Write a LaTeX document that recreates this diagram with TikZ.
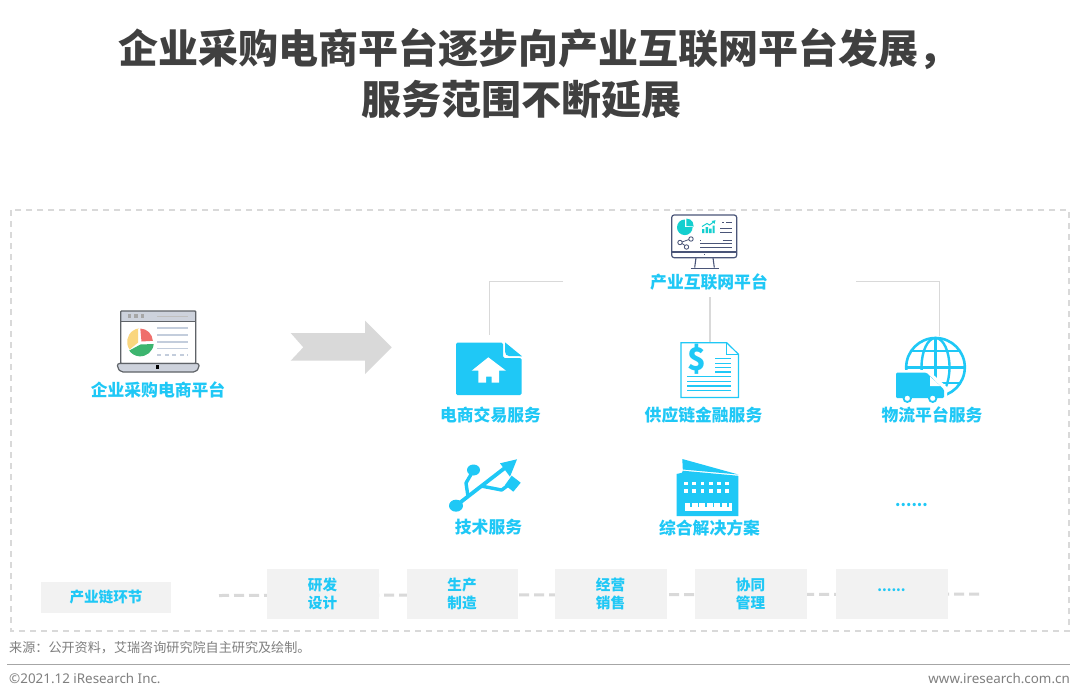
\documentclass[tikz,border=0pt]{standalone}
\usepackage{fontspec}
\setmainfont{Noto Sans}
\newfontfamily\cjk{Noto Sans CJK SC}
\usetikzlibrary{calc}
\definecolor{cy}{HTML}{1FC8F6}
\definecolor{tt}{HTML}{404040}
\definecolor{gr}{HTML}{D9D9D9}
\definecolor{bx}{HTML}{F2F2F2}
\definecolor{ft}{HTML}{7F7F7F}
\definecolor{navy}{HTML}{4A5578}
\definecolor{teal}{HTML}{14CFCF}
\definecolor{lapedge}{HTML}{5F6368}
\definecolor{lapfill}{HTML}{CDD2DC}
\definecolor{lapline}{HTML}{C3CDDC}
\definecolor{pied}{HTML}{EF6F6C}
\definecolor{pieg}{HTML}{3DB56F}
\definecolor{piey}{HTML}{FAD67E}
\tikzset{
 titletext/.style={anchor=west,inner sep=0pt,text=tt,font=\cjk\bfseries\fontsize{40}{48}\selectfont},
 lbl/.style={inner sep=0pt,text=cy,align=center,font=\cjk\bfseries\fontsize{16.8}{20}\selectfont},
 chainbox/.style={fill=bx,minimum width=112pt,minimum height=49.5pt,inner sep=0pt,text=cy,align=center,font=\cjk\bfseries\fontsize{14.6}{18}\selectfont},
 footnotetext/.style={anchor=west,inner sep=0pt,text=ft,font=\cjk\fontsize{13.1}{15}\selectfont},
 foot/.style={inner sep=0pt,text=ft,font=\fontsize{13.4}{15}\selectfont},
 link/.style={draw=gr,line width=1pt},
 chainlink/.style={draw=gr,line width=3pt,dash pattern=on 10pt off 5pt},
 dotstext/.style={inner sep=0pt,text=cy,font=\cjk\bfseries\fontsize{15.5}{20}\selectfont},
}
\begin{document}
\begin{tikzpicture}[x=1pt,y=-1pt]
\useasboundingbox (0,0) rectangle (1080,699);
\fill[white] (0,0) rectangle (1080,699);
% title
\node[titletext] (t1) at (118,49.5) {企业采购电商平台逐步向产业互联网平台发展，};
\node[titletext] (t2) at (361,99.5) {服务范围不断延展};
% frame
\draw[gr,line width=1.4pt,dash pattern=on 6pt off 5pt] (11,210) rectangle (1069,631);
% arrow
\fill[gr] (290.7,333) -- (365,333) -- (365,320.7) -- (391.7,347.3) -- (365,374) -- (365,360.7) -- (290.7,360.7) -- (303.3,347.3) -- cycle;

% laptop
\fill[white] (120.7,311) rectangle (195.7,364);
\fill[lapfill] (120.7,311) rectangle (195.7,321);
\draw[lapedge,line width=1.4pt,rounded corners=0.8pt] (120.7,311) rectangle (195.7,363.5);
\draw[lapedge,line width=.9pt] (120.7,321) -- (195.7,321);
\foreach \xx in {129.3,136,142.3} \fill[black!35] (\xx-1.7,314.3) rectangle (\xx+1.7,317.7);
\draw[black!25,line width=.9pt] (157.3,316) -- (188.3,316);
\foreach \yy in {328,335,342,348.7} \draw[lapline,line width=1.2pt] (157.3,\yy) -- (188.3,\yy);
\draw[lapline,line width=1.2pt,dash pattern=on 4pt off 3.5pt] (157.3,355) -- (188.3,355);
\filldraw[fill=lapfill,draw=lapedge,line width=1.2pt,rounded corners=2pt] (117.5,363.5) -- (199,363.5) -- (199,368) -- (195.5,372) -- (121,372) -- (117.5,368) -- cycle;
\fill[black] (156,365.3) rectangle (159.4,368.7);
\fill[pied] (140.3,328.5) arc[start angle=88,end angle=3,radius=13pt] -- (141.5,341.5) -- cycle;
\fill[pieg] (153.7,344) arc[start angle=-5,end angle=-145,radius=13.5pt] -- (140.5,344.5) -- cycle;
\fill[piey] (138.2,328.5) -- (138.2,342.5) -- (129.6,349.5) arc[start angle=215,end angle=95,radius=13.5pt] -- cycle;
\node[lbl] (commerce) at (158,390) {企业采购电商平台};

% monitor
\draw[navy,line width=1.2pt,rounded corners=2.5pt] (671.7,215) rectangle (736.7,257.7);
\draw[navy,line width=1.2pt] (671.7,252) -- (736.7,252);
\fill[navy] (703.6,254.4) rectangle (705,255.4);
\draw[navy,line width=1.1pt] (696,257.7) -- (694.7,267.5) (713,257.7) -- (714.3,267.5);
\draw[navy,line width=1pt] (690.5,268) -- (718.5,268);
\fill[teal] (684.8,219.5) arc[start angle=90,end angle=-270,radius=7.8pt] -- cycle;
\fill[white] (684.8,227.3) -- (684.8,218) -- (695,218) -- (695,227.3) -- cycle;
\fill[teal] (686.3,218.5) arc[start angle=90,end angle=-5,radius=7.4pt] -- (686.3,226) -- cycle;
\fill[teal] (702,229) rectangle (704.4,233) (705.5,227) rectangle (708,233) (709,228.5) rectangle (711.5,233) (712.5,225.5) rectangle (714.7,233);
\draw[teal,line width=1pt] (702,226.5) -- (707,223.5) -- (709.5,225) -- (713.5,222);
\fill[teal] (715.5,220.2) -- (711.5,221) -- (714.5,224) -- cycle;
\draw[navy,line width=.8pt] (726,222) -- (732,222);
\fill[navy] (722,221.5) rectangle (723.5,222.5);
\draw[navy,line width=.9pt] (720,228.5) -- (732,228.5) (720,232.5) -- (732,232.5);
\fill[navy] (700,239.5) rectangle (701,240.5);
\draw[navy,line width=.7pt] (722.5,240) -- (732,240);
\draw[navy,line width=.9pt] (700,243) -- (732,243) (700,247) -- (732,247);
\draw[navy,line width=.8pt] (680.5,242.5) -- (690.5,239) (680.5,242.5) -- (686.5,246.5);
\filldraw[fill=white,draw=navy,line width=.9pt] (680,242.5) circle[radius=2.2pt] (691,239) circle[radius=2.2pt] (686.5,247) circle[radius=2.2pt];
\node[lbl] (platform) at (709,282) {产业互联网平台};

% file-home icon
\node[inner sep=0pt,minimum size=0pt] (fileicon) at (489,335) {};
\fill[cy,rounded corners=1.5pt] (456,342.7) -- (503,342.7) -- (503,358) -- (521.7,358) -- (521.7,395) -- (456,395) -- cycle;
\fill[cy] (505.2,342.5) -- (522,356.3) -- (509,356) .. controls (506.5,356) and (505.2,354) .. (505.2,352) -- cycle;
\fill[white] (488.3,357.3) -- (506,370.7) -- (499,370.7) -- (499,382.7) -- (491.7,382.7) -- (491.7,376.7) -- (486,376.7) -- (486,382.7) -- (478.3,382.7) -- (478.3,370.7) -- (471.7,370.7) -- cycle;
\node[lbl] (lblcommerce) at (490.5,415) {电商交易服务};

% invoice icon
\node[inner sep=0pt,minimum size=0pt] (invoice) at (710,342.3) {};
\draw[cy,line width=1.2pt,fill=white] (681,342.7) -- (726.7,342.7) -- (738.5,354.3) -- (738.5,397.5) -- (681,397.5) -- cycle;
\draw[cy,line width=1.1pt] (726.7,342.7) -- (726.7,354.3) -- (738.5,354.3);
\node[inner sep=0pt,text=cy,font=\cjk\bfseries\fontsize{31}{32}\selectfont] (dollar) at (697.3,359.5) {\$};
\foreach \yy in {358.3,363.3,367.7,372} \draw[cy,line width=1.2pt] (715,\yy) -- (731,\yy);
\foreach \yy in {376.7,381.7,386,390.7} \draw[cy,line width=1.2pt] (687.3,\yy) -- (731,\yy);
\node[lbl] (lblfinance) at (703.5,415) {供应链金融服务};

% globe + truck
\node[inner sep=0pt,minimum size=0pt] (globe) at (939,336) {};
\draw[cy,line width=2.6pt] (935.5,367.3) circle[radius=29.3pt];
\draw[cy,line width=2.4pt] (935.5,367.3) ellipse[x radius=14pt,y radius=29.3pt];
\draw[cy,line width=2.4pt] (935.5,338) -- (935.5,396);
\draw[cy,line width=2.4pt] (906,367.3) -- (965,367.3) (911,351) -- (960,351) (911,383) -- (960,383);
\fill[white] (893,370) -- (928,370) -- (947,387) -- (947,402) -- (890,402) -- cycle;
\fill[cy,rounded corners=1.2pt] (896,372.7) -- (926.5,372.7) -- (944,389.5) -- (944,398) -- (896,398) -- cycle;
\fill[white] (930,376.5) -- (930,386) -- (940.5,386) -- cycle;
\filldraw[fill=white,draw=cy,line width=1.8pt] (907.3,398.3) circle[radius=3.7pt] (932.7,398.3) circle[radius=3.7pt];
\node[lbl] (lbllogistics) at (932,415) {物流平台服务};

% usb
\draw[cy,line width=3.8pt] (456,505.7) -- (508,465.5);
\draw[cy,line width=3.4pt,line join=round] (468,496.5) -- (466,483) -- (473,471);
\draw[cy,line width=3.4pt,line join=round] (481,486) -- (501.7,490) -- (511,483);
\fill[cy] (456,505.7) ellipse[x radius=7pt,y radius=6pt];
\fill[cy] (473.5,470) ellipse[x radius=6.5pt,y radius=5.5pt];
\fill[cy] (517,459.3) -- (500,463.3) -- (510,476.7) -- cycle;
\fill[cy] (511.7,475.7) -- (520.7,482.7) -- (513.3,491.7) -- (505,485) -- cycle;
\node[lbl] (lbltech) at (488.5,527) {技术服务};

% building
\fill[cy] (682.3,459) -- (738.3,474.5) -- (682.8,469.5) -- cycle;
\fill[cy] (676.7,474) -- (682,472.7) -- (682.8,470.7) -- (738.3,475.8) -- (738.3,516) -- (676.7,516) -- cycle;
\foreach \xx in {686,694,702.3,710.7,718.7,726.7} \foreach \yy in {483.3,490.7}
  \fill[white] (\xx-1.8,\yy-1.8) rectangle (\xx+1.8,\yy+1.8);
\fill[white] (685,503.3) rectangle (731.7,510.7);
\foreach \xx in {691,698.5,706,713.5,721,728} \fill[cy] (\xx-.8,503) rectangle (\xx+.8,507.3);
\node[lbl] (lblsolution) at (709.5,528) {综合解决方案};
\node[dotstext] (more) at (911.5,505) {......};

% connectors
\coordinate (plL) at (563,281);
\coordinate (plR) at (856,281);
\coordinate (plD) at (710,297);
\draw[link] (plL) -- (fileicon |- plL) -- (fileicon);
\draw[link] (plR) -- (globe |- plR) -- (globe);
\draw[link,line width=1.2pt] (plD) -- (invoice);

% chain
\coordinate (cs) at (219,595.5);
\coordinate (ce) at (983,594);
\path[chainlink] (cs) -- (ce);
\node[chainbox] (b1) at (322.5,594) {研发\\设计};
\node[chainbox,minimum width=111pt] (b2) at (462,594) {生产\\制造};
\node[chainbox] (b3) at (610.5,594) {经营\\销售};
\node[chainbox] (b4) at (750.5,594) {协同\\管理};
\node[chainbox] (b5) at (891.5,594) {};
\node[dotstext,font=\cjk\bfseries\fontsize{13.5}{20}\selectfont] (b5t) at (891.5,590) {......};
\node[fill=bx,minimum width=130pt,minimum height=31pt,inner sep=0pt,text=cy,font=\cjk\bfseries\fontsize{14.6}{18}\selectfont] (chainlabel) at (106,597) {产业链环节};

% footer
\node[footnotetext] (src) at (9,648) {来源：公开资料，艾瑞咨询研究院自主研究及绘制。};
\draw[black!35,line width=1.1pt] (7,664.5) -- (1070,664.5);
\node[foot,anchor=west] (copy) at (9,678) {©2021.12 iResearch Inc.};
\node[foot,anchor=east] (web) at (1070,678) {www.iresearch.com.cn};
\end{tikzpicture}
\end{document}
